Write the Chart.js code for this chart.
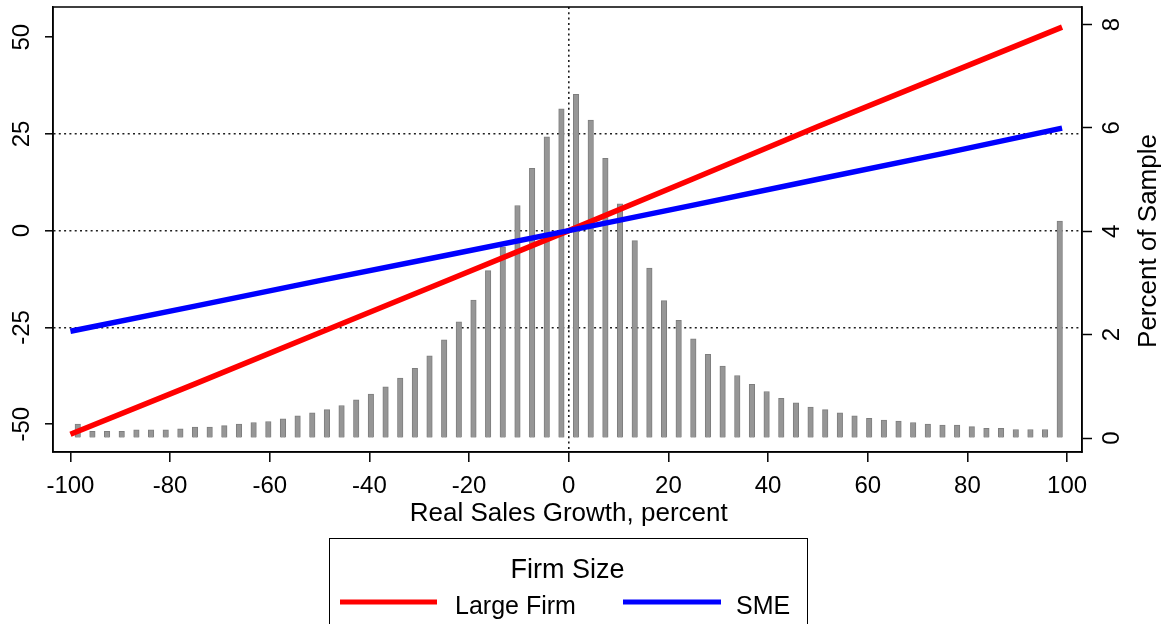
<!DOCTYPE html>
<html>
<head>
<meta charset="utf-8">
<script src="https://cdn.jsdelivr.net/npm/chart.js@4.4.1/dist/chart.umd.min.js"></script>
<style>
  html, body { margin: 0; padding: 0; background: #ffffff; }
  #wrap { width: 1170px; height: 624px; position: relative; }
</style>
</head>
<body>
<div id="wrap"><canvas id="chart" width="1170" height="624"></canvas></div>
<script>
const FONT = '"Liberation Sans", Arial, Helvetica, sans-serif';

// Histogram bins of real sales growth (bin centres, percent)
const growthBins = [
  -98.53, -95.59, -92.65, -89.71, -86.76, -83.82, -80.88, -77.94, -75.00, -72.06,
  -69.12, -66.18, -63.24, -60.29, -57.35, -54.41, -51.47, -48.53, -45.59, -42.65,
  -39.71, -36.76, -33.82, -30.88, -27.94, -25.00, -22.06, -19.12, -16.18, -13.24,
  -10.29, -7.35, -4.41, -1.47, 1.47, 4.41, 7.35, 10.29, 13.24, 16.18,
  19.12, 22.06, 25.00, 27.94, 30.88, 33.82, 36.76, 39.71, 42.65, 45.59,
  48.53, 51.47, 54.41, 57.35, 60.29, 63.24, 66.18, 69.12, 72.06, 75.00,
  77.94, 80.88, 83.82, 86.76, 89.71, 92.65, 95.59, 98.53
];

// Share of firms in each bin (percent of sample, right axis)
const sampleShare = [
  0.27, 0.13, 0.13, 0.13, 0.16, 0.16, 0.16, 0.18, 0.21, 0.21,
  0.24, 0.27, 0.30, 0.32, 0.37, 0.43, 0.49, 0.55, 0.63, 0.74,
  0.85, 0.99, 1.16, 1.35, 1.59, 1.90, 2.25, 2.67, 3.24, 3.70,
  4.50, 5.22, 5.83, 6.37, 6.65, 6.15, 5.41, 4.53, 3.82, 3.29,
  2.66, 2.28, 1.92, 1.62, 1.39, 1.21, 1.04, 0.90, 0.77, 0.68,
  0.60, 0.55, 0.49, 0.43, 0.38, 0.35, 0.33, 0.30, 0.27, 0.25,
  0.25, 0.22, 0.19, 0.19, 0.165, 0.165, 0.165, 4.20
];

// Fitted response by firm size (left axis)
const fitX = [-100, -75, -50, -25, 0, 25, 50, 75, 99];
const largeFirmFit = [-52.6, -39.6, -26.4, -13.2, 0, 13.4, 26.9, 40.0, 52.6];
const smeFit = [-26.0, -19.5, -12.9, -6.5, 0, 6.6, 13.3, 19.9, 26.5];

// Axis ticks
const xTicks = [-100, -80, -60, -40, -20, 0, 20, 40, 60, 80, 100];
const leftTicks = [-50, -25, 0, 25, 50];
const rightTicks = [0, 2, 4, 6, 8];
const leftGrid = [-25, 0, 25];
const xGrid = [0];

const X_TITLE = 'Real Sales Growth, percent';
const Y2_TITLE = 'Percent of Sample';
const LEGEND_TITLE = 'Firm Size';

const DOTTED = '#1e1e1e';
const tickFont = { family: FONT, size: 24 };

const setTicks = (values) => (scale) => { scale.ticks = values.map(v => ({ value: v })); };
const fixVertical = (width) => (scale) => {
  scale.width = width;
  scale.paddingTop = 0;
  scale.paddingBottom = 0;
};

// Plot frame, right-axis title, x-axis title and the boxed legend
const decorations = {
  id: 'decorations',
  afterDraw(chart) {
    const { ctx, chartArea: a } = chart;
    ctx.save();
    ctx.strokeStyle = '#000';
    ctx.lineWidth = 1.5;
    ctx.strokeRect(a.left, a.top, a.right - a.left, a.bottom - a.top);

    ctx.fillStyle = '#000';
    ctx.font = `26px ${FONT}`;
    ctx.textAlign = 'center';
    ctx.textBaseline = 'alphabetic';
    ctx.fillText(X_TITLE, chart.scales.x.getPixelForValue(0), 521);

    ctx.save();
    ctx.translate(1149, 241);
    ctx.rotate(-Math.PI / 2);
    ctx.textBaseline = 'middle';
    ctx.fillText(Y2_TITLE, 0, 0);
    ctx.restore();

    // legend box
    ctx.lineWidth = 1;
    ctx.strokeStyle = '#000';
    ctx.strokeRect(329.5, 538.5, 478, 120);
    ctx.font = `27px ${FONT}`;
    ctx.textAlign = 'center';
    ctx.fillText(LEGEND_TITLE, 567.5, 578);

    const items = [chart.data.datasets[1], chart.data.datasets[0]];
    const slots = [{ x0: 340, x1: 437, tx: 455 }, { x0: 623, x1: 721, tx: 736 }];
    ctx.font = `25px ${FONT}`;
    ctx.textAlign = 'left';
    items.forEach((ds, i) => {
      const s = slots[i];
      ctx.strokeStyle = ds.borderColor;
      ctx.lineWidth = 5;
      ctx.beginPath();
      ctx.moveTo(s.x0, 602);
      ctx.lineTo(s.x1, 602);
      ctx.stroke();
      ctx.fillText(ds.label, s.tx, 613.5);
    });
    ctx.restore();
  }
};

new Chart(document.getElementById('chart'), {
  type: 'line',
  data: {
    datasets: [
      {
        type: 'line', label: 'SME',
        data: fitX.map((x, i) => ({ x, y: smeFit[i] })),
        borderColor: '#0000ff', borderWidth: 5.5, pointRadius: 0, tension: 0,
        yAxisID: 'y', order: 0
      },
      {
        type: 'line', label: 'Large Firm',
        data: fitX.map((x, i) => ({ x, y: largeFirmFit[i] })),
        borderColor: '#ff0000', borderWidth: 5.5, pointRadius: 0, tension: 0,
        yAxisID: 'y', order: 1
      },
      {
        type: 'bar', label: Y2_TITLE,
        data: growthBins.map((x, i) => ({ x, y: sampleShare[i] })),
        backgroundColor: '#969696', borderColor: '#7e7e7e', borderWidth: 1,
        barThickness: 5.5, yAxisID: 'y2', order: 2
      }
    ]
  },
  options: {
    responsive: false,
    animation: false,
    devicePixelRatio: 1,
    layout: { padding: { top: 7, left: 0, right: 0, bottom: 0 } },
    plugins: { legend: { display: false }, tooltip: { enabled: false } },
    scales: {
      x: {
        type: 'linear', position: 'bottom', min: -103.5, max: 103, offset: false,
        afterBuildTicks: setTicks(xTicks),
        afterFit: (s) => { s.height = 172; s.paddingLeft = 0; s.paddingRight = 0; },
        grid: {
          offset: false,
          color: (c) => (c.tick && xGrid.includes(c.tick.value)) ? DOTTED : 'rgba(0,0,0,0)',
          lineWidth: 1.6, tickLength: 10, tickColor: '#000', tickWidth: 1.5
        },
        border: { display: true, color: '#000', width: 1.5, dash: [2, 3.3] },
        ticks: { font: tickFont, color: '#000', padding: 9.6, maxRotation: 0, minRotation: 0, autoSkip: false }
      },
      y: {
        type: 'linear', position: 'left', min: -57.2, max: 57.8,
        afterBuildTicks: setTicks(leftTicks),
        afterFit: fixVertical(53),
        grid: {
          color: (c) => (c.tick && leftGrid.includes(c.tick.value)) ? DOTTED : 'rgba(0,0,0,0)',
          lineWidth: 1.6, tickLength: 8, tickColor: '#000', tickWidth: 1.5
        },
        border: { display: true, color: '#000', width: 1.5, dash: [2, 3.3] },
        ticks: { font: tickFont, color: '#000', padding: 5.7, minRotation: 90, maxRotation: 90, crossAlign: 'center', autoSkip: false }
      },
      y2: {
        type: 'linear', position: 'right', min: -0.27, max: 8.34,
        afterBuildTicks: setTicks(rightTicks),
        afterFit: fixVertical(88),
        grid: { drawOnChartArea: false, tickLength: 10, tickColor: '#000', tickWidth: 1.5 },
        border: { display: true, color: '#000', width: 1.5 },
        ticks: { font: tickFont, color: '#000', padding: 13.3, minRotation: 90, maxRotation: 90, crossAlign: 'center', autoSkip: false }
      }
    }
  },
  plugins: [decorations]
});
</script>
</body>
</html>
